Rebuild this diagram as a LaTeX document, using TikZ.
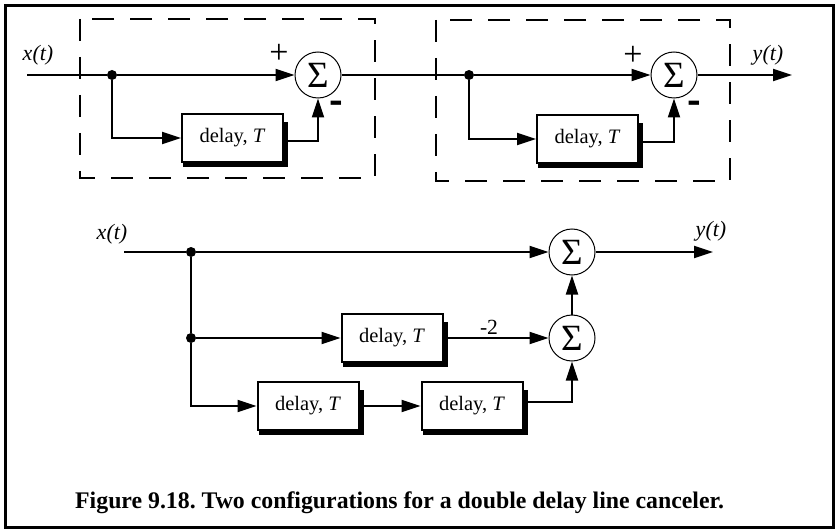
\documentclass[tikz,border=0pt]{standalone}
\usepackage{fontspec}
\usepackage{graphicx}
\setmainfont{Liberation Serif}
\newfontfamily\signfont{Liberation Sans}
\usetikzlibrary{arrows.meta,backgrounds}

\begin{document}
\frenchspacing
\begin{tikzpicture}[x=1pt,y=-1pt,
  conn/.style={line width=2pt,-{Triangle[length=19pt,width=12pt]}},
  wire/.style={line width=2pt},
  delaybox/.style={draw,line width=2pt,fill=white,minimum width=101pt,
    minimum height=48pt,inner sep=0pt,font=\fontsize{20.5}{24}\selectfont},
  summer/.style={circle,draw,line width=1pt,minimum size=46pt,inner sep=0pt,
    font=\fontsize{37}{38}\selectfont},
  junction/.style={circle,fill,minimum size=10pt,inner sep=0pt},
  stage/.style={line width=2pt,dash pattern=on 22pt off 16pt},
  lbl/.style={font=\fontsize{22}{24}\selectfont\itshape,inner sep=0pt},
  plus/.style={font=\fontsize{34}{36}\selectfont,inner sep=0pt},
  neg/.style={font=\fontsize{21}{24}\selectfont\signfont\bfseries,inner sep=0pt},
  gain/.style={font=\fontsize{21.6}{24}\selectfont,inner sep=0pt}
]
\useasboundingbox (0,0) rectangle (837,529);
\draw[line width=3pt] (5.3,5.3) rectangle (833.5,527.5);

% ---- single-delay cancelers in cascade ----
\draw[stage] (80,19) rectangle (375,178);
\draw[stage] (436,20) rectangle (730,181);

\coordinate (inA) at (27,75);
\node[junction] (j1) at (112,75) {};
\node[summer] (s1) at (318,75) {Σ};
\node[delaybox] (d1) at (232.5,138) {delay, \textit{T}};
\node[junction] (j2) at (469,75) {};
\node[summer] (s2) at (674,75) {Σ};
\node[delaybox] (d2) at (587.5,139) {delay, \textit{T}};
\coordinate (outA) at (792,75);

\node[lbl] (xa) at (38,55) {x(t)};
\node[lbl] (ya) at (768,55) {y(t)};
\node[plus] (p1) at (279,54) {+};
\node[plus] (p2) at (633,56) {+};
\node[neg] (m1) at (336,108) {\scalebox{1}[2]{–}};
\node[neg] (m2) at (694,108) {\scalebox{1}[2]{–}};

\draw[wire] (inA) -- (j1);
\draw[conn] (j1) -- (s1.west);
\draw[conn] (j1) |- (d1.west);
\draw[conn] ([yshift=-3pt]d1.east) -| (s1.south);
\draw[wire] (s1.east) -- (j2);
\draw[conn] (j2) -- (s2.west);
\draw[conn] (j2) |- (d2.west);
\draw[conn] ([yshift=-3pt]d2.east) -| (s2.south);
\draw[conn] (s2.east) -- (outA);

% ---- direct double-delay form ----
\coordinate (inB) at (124,252);
\node[junction] (j3) at (191,252) {};
\node[junction] (j4) at (191,338) {};
\node[summer] (sa) at (572,252) {Σ};
\node[summer] (sb) at (572,338) {Σ};
\node[delaybox] (da) at (392,338) {delay, \textit{T}};
\node[delaybox] (db) at (308,406) {delay, \textit{T}};
\node[delaybox] (dc) at (472,406) {delay, \textit{T}};
\coordinate (outB) at (713,252);

\node[lbl] (xb) at (112,234) {x(t)};
\node[lbl] (yb) at (711,231) {y(t)};
\node[gain] (g2) at (489,327) {-2};

\draw[wire] (inB) -- (j3);
\draw[conn] (j3) -- (sa.west);
\draw[wire] (j3) -- (j4);
\draw[conn] (j4) -- (da.west);
\draw[conn] (j4) |- (db.west);
\draw[conn] (db.east) -- (dc.west);
\draw[conn] (da.east) -- (sb.west);
\draw[conn] ([yshift=4pt]dc.east) -| (sb.south);
\draw[conn] (sb.north) -- (sa.south);
\draw[conn] (sa.east) -- (outB);

% drop shadows behind the delay blocks
\begin{pgfonlayer}{background}
\foreach \b in {d1,d2,da,db,dc}
  \fill ([shift={(2,4)}]\b.south west) rectangle ([shift={(4,9)}]\b.north east);
\end{pgfonlayer}

\node[anchor=base west,inner sep=0pt,font=\fontsize{23.8}{26}\selectfont\bfseries]
  (cap) at (75,508) {Figure 9.18. Two configurations for a double delay line canceler.};
\end{tikzpicture}
\end{document}
